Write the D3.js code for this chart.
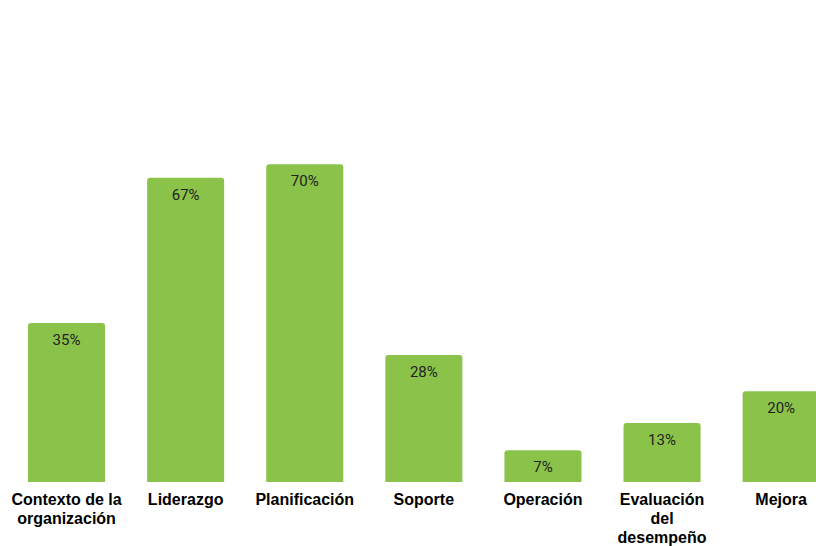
<!DOCTYPE html>
<html>
<head>
<meta charset="utf-8">
<script src="https://cdn.jsdelivr.net/npm/d3@7"></script>
<style>
  html, body { margin: 0; padding: 0; background: #fff; }
  svg { display: block; }
</style>
</head>
<body>
<svg id="chart" width="816" height="546"></svg>
<script>
const categories = [
  ["Contexto de la", "organización"],
  ["Liderazgo"],
  ["Planificación"],
  ["Soporte"],
  ["Operación"],
  ["Evaluación", "del", "desempeño"],
  ["Mejora"]
];
const values = [35, 67, 70, 28, 7, 13, 20];
const valueLabels = ["35%", "67%", "70%", "28%", "7%", "13%", "20%"];

const svg = d3.select("#chart");
const keys = categories.map((c, i) => i);

const x = d3.scaleBand()
  .domain(keys)
  .range([7, 7 + 7 * 119.1])
  .paddingInner(0.353)
  .paddingOuter(0.1765);

const y = d3.scaleLinear().domain([0, 100]).range([482, 28]);

const r = 3;
function barPath(x0, w, yTop, yBase) {
  return `M${x0},${yBase}V${yTop + r}Q${x0},${yTop} ${x0 + r},${yTop}H${x0 + w - r}Q${x0 + w},${yTop} ${x0 + w},${yTop + r}V${yBase}Z`;
}

svg.selectAll("path.bar")
  .data(values)
  .join("path")
  .attr("class", "bar")
  .attr("fill", "#8BC34A")
  .attr("d", (d, i) => barPath(x(i), x.bandwidth(), y(d), y(0)));

svg.selectAll("text.val")
  .data(values)
  .join("text")
  .attr("class", "val")
  .attr("x", (d, i) => x(i) + x.bandwidth() / 2)
  .attr("y", d => y(d) + 22)
  .attr("text-anchor", "middle")
  .attr("font-family", "Roboto, sans-serif")
  .attr("font-size", 15)
  .attr("fill", "#222")
  .text((d, i) => valueLabels[i]);

const cat = svg.selectAll("text.cat")
  .data(categories)
  .join("text")
  .attr("class", "cat")
  .attr("x", (d, i) => x(i) + x.bandwidth() / 2)
  .attr("y", 505)
  .attr("text-anchor", "middle")
  .attr("font-family", "'Liberation Sans', Arial, sans-serif")
  .attr("font-weight", "bold")
  .attr("font-size", 16)
  .attr("fill", "#000");

cat.selectAll("tspan")
  .data((d, i) => d.map(t => ({ t, i })))
  .join("tspan")
  .attr("x", d => x(d.i) + x.bandwidth() / 2)
  .attr("dy", (d, j) => j === 0 ? 0 : 19)
  .text(d => d.t);
</script>
</body>
</html>
